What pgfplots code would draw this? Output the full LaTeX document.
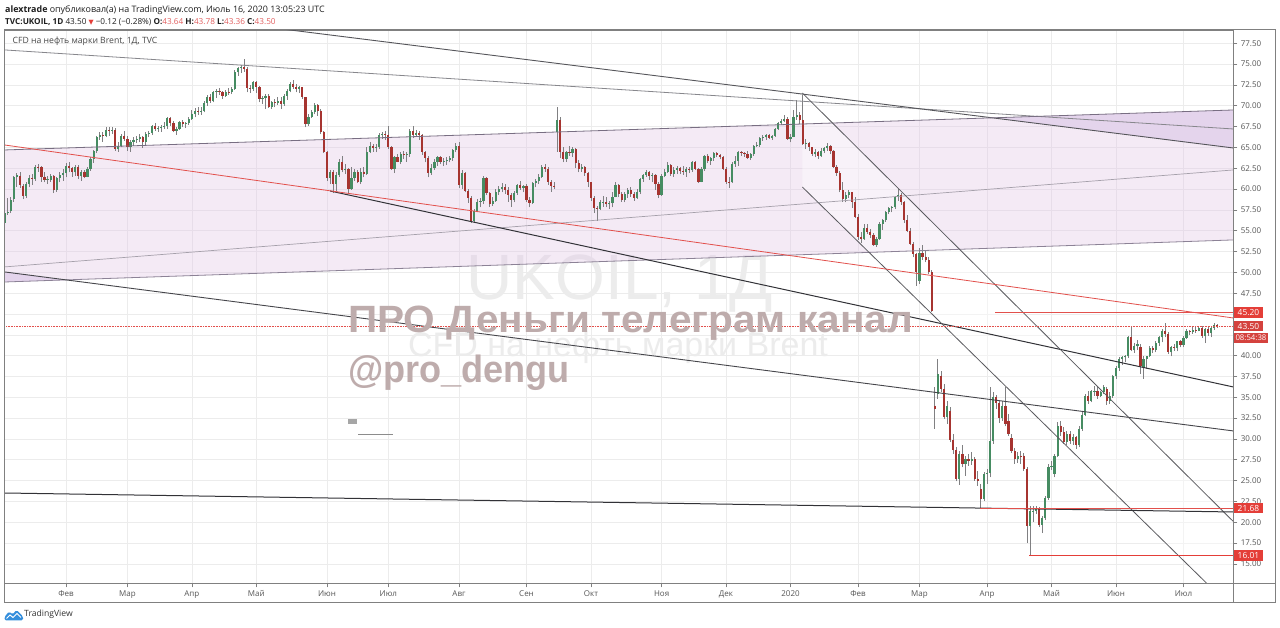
\documentclass[border=0pt]{standalone}
\usepackage{fontspec}
\setmainfont{Open Sans}
\newfontfamily\arialf{Liberation Sans}
\newfontfamily\dejavu{DejaVu Sans}
\usepackage{pgfplots}
\pgfplotsset{compat=1.18}
\usepackage{pgfplotstable}

\definecolor{upc}{RGB}{70,140,98}
\definecolor{downc}{RGB}{166,52,48}
\definecolor{wickc}{RGB}{128,128,130}
\definecolor{pinkc}{RGB}{224,195,229}
\definecolor{wedgec}{RGB}{228,212,236}
\definecolor{gridc}{RGB}{236,236,236}
\definecolor{framec}{RGB}{128,128,128}
\definecolor{labc}{RGB}{85,85,85}
\definecolor{tagred}{RGB}{228,62,56}
\definecolor{linered}{RGB}{226,80,76}
\definecolor{wmc}{RGB}{190,172,172}
\definecolor{ghostc}{RGB}{236,236,236}
\definecolor{tvblue}{RGB}{52,142,220}
\definecolor{valred}{RGB}{226,96,96}
\definecolor{txtc}{RGB}{30,30,30}

\newcommand\tickf{\fontsize{8}{9.6}\selectfont}

\pgfplotstableread{
o h l c
55.9 57.6 55.4 57.1
57.1 58.9 56.9 57.3
57.4 59.0 57.1 58.7
58.8 61.6 58.5 61.4
61.4 61.9 60.3 61.7
61.6 62.0 60.1 60.5
60.4 60.6 58.8 59.2
59.2 60.8 58.9 60.6
60.6 61.7 60.2 61.3
61.3 61.8 60.5 61.2
61.2 62.9 61.0 62.7
62.7 63.0 62.1 62.6
62.6 62.8 60.9 61.5
61.5 62.0 60.8 61.1
61.1 61.6 60.6 61.2
61.1 61.8 60.9 61.6
61.6 61.7 59.5 59.9
59.9 61.5 59.7 61.3
61.3 62.0 60.8 61.7
61.7 62.4 61.0 61.9
61.9 63.1 61.4 62.8
62.8 63.2 62.0 62.5
62.5 62.7 61.5 62.0
62.0 62.9 61.6 62.7
62.7 62.9 61.2 61.6
61.6 62.3 61.0 62.1
62.1 62.3 61.3 61.5
61.5 62.6 61.4 62.4
62.4 63.8 62.2 63.6
63.6 64.7 63.1 64.6
64.6 66.4 64.3 66.2
66.2 66.8 65.9 66.5
66.5 66.8 65.7 66.4
66.4 67.4 66.2 67.1
67.1 67.5 66.4 67.0
67.0 67.4 66.6 67.1
67.1 67.3 64.6 64.8
64.8 65.6 64.5 65.2
65.2 66.6 65.0 66.4
66.4 67.0 65.8 66.0
66.0 66.4 64.6 65.0
65.0 65.9 64.5 65.7
65.7 66.2 65.2 65.9
65.9 66.4 65.5 66.0
66.0 66.6 65.6 66.3
66.3 66.4 64.9 65.7
65.7 66.8 65.3 66.6
66.6 67.0 66.2 66.7
66.7 67.7 66.5 67.6
67.6 67.9 67.0 67.2
67.2 67.6 66.9 67.3
67.3 67.7 66.9 67.5
67.5 68.0 67.2 67.6
67.6 68.7 67.2 68.5
68.5 68.7 67.6 67.9
67.9 68.2 66.8 67.0
67.0 67.5 66.5 67.2
67.2 68.2 67.1 68.0
68.0 68.3 67.4 67.8
67.8 68.0 67.3 67.9
67.9 68.6 67.7 68.4
68.4 69.5 68.3 69.0
69.0 69.7 68.6 69.4
69.4 69.9 68.9 69.3
69.3 69.8 68.9 69.4
69.4 70.6 69.2 70.3
70.3 71.3 70.0 71.1
71.1 71.4 70.3 70.6
70.6 71.8 70.4 71.7
71.7 72.0 70.9 71.8
71.8 72.1 71.3 71.6
71.6 71.8 70.8 71.2
71.2 71.9 71.1 71.7
71.7 72.1 71.3 71.6
71.6 72.2 71.4 72.0
72.0 74.3 71.9 74.0
74.0 74.7 73.6 74.5
74.5 74.9 73.9 74.6
74.6 75.6 74.1 74.4
74.4 74.6 71.6 72.1
72.1 72.5 71.5 72.0
72.0 73.0 71.8 72.8
72.8 73.0 71.5 72.2
72.2 72.4 70.4 70.8
70.8 71.2 70.2 70.9
70.9 71.4 69.6 71.2
71.2 71.4 69.7 69.9
69.9 70.6 69.6 70.4
70.4 70.8 69.8 70.3
70.3 71.0 70.1 70.6
70.6 71.0 69.6 70.2
70.2 71.4 70.0 71.2
71.2 72.0 70.7 71.8
71.8 72.8 71.6 72.6
72.6 73.1 72.0 72.2
72.2 72.6 71.6 72.0
72.0 72.4 71.5 72.2
72.2 72.3 70.8 71.0
71.0 71.1 67.4 67.8
67.8 69.0 67.6 68.7
68.7 69.5 68.5 69.3
69.3 70.3 69.0 70.1
70.1 70.2 68.8 69.4
69.4 69.6 66.6 66.9
66.9 67.0 64.3 64.5
64.5 64.6 61.0 61.3
61.3 62.3 60.6 62.0
62.0 62.3 59.5 60.6
60.6 62.0 59.8 61.7
61.7 63.6 61.5 63.3
63.3 64.0 62.0 62.3
62.3 63.0 61.8 62.4
62.4 62.5 59.5 60.0
60.0 62.6 59.9 61.3
61.3 62.4 61.0 62.0
62.0 62.3 60.7 60.9
60.9 62.5 60.6 62.1
62.1 62.6 61.4 61.8
61.8 65.0 61.7 64.5
64.5 65.7 64.3 65.2
65.2 65.4 64.5 64.9
64.9 65.4 64.4 65.1
65.1 66.7 64.8 66.5
66.5 66.9 66.0 66.6
66.6 67.0 65.9 66.5
66.5 67.6 64.8 65.0
65.0 65.2 62.3 62.4
62.4 64.0 61.9 63.8
63.8 64.2 63.2 63.3
63.3 64.5 63.0 64.2
64.2 64.6 63.6 64.1
64.1 64.5 63.3 64.2
64.2 67.2 63.9 67.0
67.0 67.6 66.1 66.5
66.5 67.1 66.3 66.7
66.7 67.0 65.9 66.5
66.5 66.6 64.1 64.4
64.4 64.6 63.2 63.7
63.7 64.0 61.4 61.9
61.9 63.0 61.7 62.5
62.5 63.6 62.3 63.3
63.3 64.0 62.8 63.8
63.8 64.0 63.0 63.2
63.2 63.7 62.8 63.4
63.4 63.8 62.9 63.5
63.5 64.0 63.2 63.7
63.7 64.8 63.4 64.7
64.7 65.5 64.4 65.2
65.2 65.6 60.1 60.5
60.5 62.3 60.0 61.9
61.9 62.0 59.6 59.8
59.8 60.0 58.3 58.9
58.9 59.2 55.9 56.2
56.2 57.6 56.1 57.4
57.4 58.8 57.2 58.5
58.5 58.9 57.8 58.6
58.6 61.6 58.2 61.3
61.3 61.4 59.3 59.5
59.5 59.6 57.9 58.2
58.2 59.0 58.0 58.6
58.6 60.0 58.5 59.7
59.7 60.4 59.3 60.0
60.0 60.7 59.6 60.3
60.3 60.6 59.4 59.9
59.9 60.3 58.5 59.3
59.3 59.5 57.9 58.7
58.7 59.8 58.4 59.5
59.5 60.6 59.3 60.5
60.5 61.0 59.9 60.1
60.1 60.5 59.6 60.4
60.4 60.6 58.5 58.7
58.7 59.0 57.8 58.3
58.3 60.9 58.2 60.7
60.7 61.2 60.2 61.0
61.0 61.8 60.6 61.5
61.5 62.9 61.3 62.6
62.6 63.0 62.1 62.4
62.4 62.6 60.5 60.8
60.8 61.1 59.7 60.4
60.4 60.9 60.0 60.2
66.8 69.8 64.5 68.3
68.3 68.6 63.7 64.5
64.5 65.0 63.2 63.6
63.6 64.6 63.3 64.4
64.4 65.2 64.0 64.3
64.3 65.1 63.9 64.8
64.8 64.9 62.5 63.1
63.1 63.5 62.0 62.4
62.4 63.0 62.1 62.7
62.7 62.8 61.6 61.9
61.9 62.0 60.2 60.8
60.8 60.9 58.6 58.9
58.9 59.2 57.1 57.7
57.7 58.0 56.2 57.6
57.6 58.7 57.5 58.4
58.4 59.2 57.9 58.5
58.5 59.0 57.8 58.2
58.2 58.6 57.6 58.3
58.3 59.7 57.8 59.1
59.1 60.8 59.0 60.5
60.5 60.6 59.0 59.4
59.4 59.7 58.5 58.7
58.7 59.7 58.4 59.4
59.4 60.1 58.9 59.9
59.9 60.2 59.1 59.4
59.4 59.6 58.6 58.9
58.9 60.0 58.8 59.7
59.7 61.3 59.4 61.2
61.2 61.8 60.9 61.7
61.7 62.3 61.5 62.0
62.0 62.2 61.1 61.6
61.6 61.9 60.8 61.7
61.7 61.8 59.9 60.6
60.6 60.9 58.9 59.3
59.3 61.8 59.2 61.6
61.6 62.4 61.4 62.1
62.1 63.2 61.9 62.9
62.9 63.0 61.6 61.8
61.8 62.6 61.5 62.3
62.3 62.8 61.8 62.5
62.5 62.6 61.8 62.2
62.2 62.8 61.7 62.1
62.1 62.6 61.5 62.4
62.4 62.7 61.9 62.3
62.3 63.4 62.1 63.3
63.3 63.4 62.3 62.4
62.4 62.5 60.7 60.9
60.9 62.6 60.8 62.4
62.4 64.1 62.2 64.0
64.0 64.2 63.1 63.4
63.4 63.8 62.9 63.7
63.7 64.4 63.4 64.3
64.3 64.5 63.8 64.1
64.1 64.2 63.6 63.9
63.9 64.0 62.3 62.4
62.4 62.6 60.6 60.9
60.9 61.4 60.1 60.8
60.8 63.2 60.7 63.0
63.0 64.0 62.7 63.4
63.4 64.6 62.8 64.4
64.4 64.6 64.0 64.3
64.3 64.5 63.9 64.2
64.2 64.6 63.6 63.7
63.7 64.3 63.5 64.2
64.2 65.3 64.0 65.2
65.2 65.6 65.0 65.3
65.3 66.2 65.1 66.1
66.1 66.5 65.8 66.2
66.2 66.6 65.9 66.5
66.5 66.6 66.0 66.1
66.1 66.5 65.9 66.4
66.4 67.3 66.3 67.2
67.2 68.0 67.1 67.9
67.9 68.4 67.7 68.2
68.2 68.9 68.0 68.4
68.4 68.6 65.9 66.0
66.0 66.6 65.6 66.3
66.3 69.5 66.2 68.6
68.6 70.7 68.3 68.9
68.9 69.2 67.8 68.3
68.3 71.3 65.3 65.4
65.4 66.0 64.8 65.5
65.5 65.7 64.6 65.0
65.0 65.1 64.0 64.2
64.2 64.8 63.8 64.5
64.5 64.6 63.6 64.0
64.0 64.9 63.9 64.6
64.6 65.1 64.3 64.9
64.9 65.5 64.6 65.2
65.2 65.3 64.2 64.6
64.6 64.7 62.5 62.7
62.7 62.9 61.6 61.9
61.9 62.2 59.6 59.9
59.9 60.8 58.5 58.8
58.8 59.7 58.4 59.3
59.3 59.9 58.9 59.6
59.6 59.7 57.7 58.4
58.4 59.0 56.5 56.7
56.7 57.0 53.9 54.3
54.3 54.8 53.5 54.0
54.0 55.8 53.9 55.3
55.3 55.8 54.6 54.9
54.9 55.2 54.1 54.5
54.5 54.7 53.2 53.3
53.3 54.3 53.1 54.0
54.0 56.0 53.9 55.8
55.8 56.4 55.1 56.3
56.3 57.4 56.1 57.3
57.3 57.8 57.0 57.7
57.7 58.0 57.2 57.8
57.8 59.2 57.6 59.1
59.1 60.0 58.6 59.3
59.3 59.5 58.1 58.5
58.5 58.6 55.9 56.3
56.3 56.9 54.8 55.0
55.0 55.3 53.3 53.4
53.4 53.6 51.8 52.2
52.2 52.3 48.4 50.0
49.0 52.9 48.6 52.3
52.3 53.3 51.5 51.9
51.9 52.6 51.2 51.5
51.5 51.8 49.8 50.0
50.0 50.3 45.2 45.4
34.0 36.2 31.2 33.6
35.4 39.6 34.8 37.8
37.6 38.2 35.6 36.0
36.0 36.6 32.4 32.6
32.6 34.6 31.8 34.0
33.4 33.8 29.6 29.9
29.9 30.6 28.2 28.7
28.7 29.0 24.9 25.2
25.2 28.6 24.5 28.2
28.2 29.3 26.6 27.0
27.0 28.0 25.6 27.6
27.6 28.2 26.8 27.4
27.4 28.4 26.9 27.6
27.6 27.8 25.0 25.2
25.2 26.2 24.4 24.9
24.0 24.6 21.7 22.8
22.8 26.0 22.6 25.8
25.8 26.4 24.6 25.9
25.9 36.2 25.4 29.8
29.8 35.6 29.4 35.0
35.0 35.3 33.6 34.3
34.3 34.6 31.9 32.5
32.5 34.6 32.2 34.0
34.0 36.2 31.5 31.8
32.2 33.0 30.4 30.6
30.1 30.6 28.3 28.6
28.6 28.9 27.0 27.6
27.6 28.4 27.1 28.0
28.0 28.5 27.0 27.9
28.0 28.3 26.2 26.4
26.4 26.6 17.5 19.6
19.6 21.9 16.0 21.3
21.3 22.0 20.0 21.4
21.4 22.0 21.0 21.6
21.6 21.8 19.4 19.7
19.7 20.8 18.7 20.5
20.5 23.1 20.3 22.9
22.9 27.0 22.7 26.6
26.6 27.4 26.3 26.8
25.8 28.2 25.4 28.0
28.0 32.0 27.8 31.6
31.6 32.2 30.4 30.8
30.8 31.4 29.4 29.6
29.6 31.0 29.3 30.6
30.6 30.9 29.4 29.8
29.8 30.6 29.3 30.2
30.2 30.4 28.8 29.3
29.3 31.5 29.0 31.2
31.2 33.2 31.0 32.9
32.9 35.4 32.7 35.1
35.1 35.7 34.2 34.6
34.6 35.9 34.4 35.7
35.7 36.3 35.2 35.8
35.8 36.3 34.8 35.1
35.1 35.8 35.0 35.6
35.6 36.5 35.4 36.2
36.0 36.2 34.1 34.6
34.6 35.6 34.2 35.2
35.2 37.7 34.9 37.5
37.5 38.8 37.2 38.5
38.5 39.8 38.2 39.6
39.6 40.0 38.9 39.8
39.8 40.1 39.2 39.9
39.9 42.4 39.7 42.2
42.2 43.4 40.5 40.7
40.7 41.5 40.3 41.1
41.1 41.9 40.7 41.4
41.0 41.4 37.8 38.8
38.6 39.9 37.2 39.6
39.6 40.0 38.4 39.9
39.9 41.2 39.8 40.9
40.9 41.2 40.3 40.7
40.7 41.7 40.4 41.5
41.5 42.4 41.2 42.2
42.2 43.2 41.6 43.0
43.0 43.9 42.2 42.6
42.6 42.8 40.2 40.4
40.4 41.2 39.9 41.0
41.0 41.4 40.6 40.9
40.9 41.8 40.5 41.7
41.7 41.9 41.0 41.3
41.3 42.4 41.0 42.1
42.1 43.2 42.0 42.9
42.9 43.1 42.5 42.8
42.8 43.5 42.6 43.1
43.1 43.4 42.7 43.0
43.0 43.6 42.9 43.3
43.3 43.5 42.1 42.3
42.3 43.3 41.5 43.2
43.2 43.5 42.4 42.7
42.7 43.5 42.2 43.3
43.3 43.9 43.1 43.64
43.64 43.78 43.36 43.50
}\ohlc

\begin{document}
\begin{tikzpicture}
\useasboundingbox (0,0) rectangle (1280pt,628pt);
\fill[white] (0,0) rectangle (1280pt,628pt);
% ghost symbol watermark (behind chart)
\node[anchor=base, inner sep=0, text=ghostc, font=\arialf\fontsize{64}{64}\selectfont] at (620pt,328pt) {UKOIL, 1Д};
\node[anchor=base, inner sep=0, text=ghostc, font=\arialf\fontsize{34}{34}\selectfont] at (618pt,271pt) {CFD на нефть марки Brent};

\begin{axis}[
  at={(4.5pt,44.7pt)}, anchor=south west,
  x=1pt, y=8.33pt,
  xmin=4.5, xmax=1233.3, ymin=12.67, ymax=79.10,
  axis line style={draw=framec, line width=0.8pt},
  xtick={66,127.4,191.9,256.3,327,388.4,459,526.5,591,661.6,726,790.5,858,919.5,987,1051.5,1116,1183.5},
  xticklabels={Фев,Мар,Апр,Май,Июн,Июл,Авг,Сен,Окт,Ноя,Дек,2020,Фев,Мар,Апр,Май,Июн,Июл},
  ytick={15,17.5,20,22.5,25,27.5,30,32.5,35,37.5,40,42.5,45,47.5,50,52.5,55,57.5,60,62.5,65,67.5,70,72.5,75,77.5},
  yticklabels={15.00,17.50,20.00,22.50,25.00,27.50,30.00,32.50,35.00,37.50,40.00,,,47.50,50.00,52.50,55.00,57.50,60.00,62.50,65.00,67.50,70.00,72.50,75.00,77.50},
  xtick pos=left, ytick pos=right, yticklabel pos=right,
  tick align=outside, major tick length=4pt,
  tick style={draw=framec, line width=0.6pt},
  grid=major, major grid style={draw=gridc, line width=0.6pt},
  ticklabel style={font=\tickf, text=labc},
  colormap={updown}{color=(downc) color=(upc)},
  point meta min=0, point meta max=1,
]
% pink channel
\addplot[draw=none, fill=pinkc, fill opacity=0.35] coordinates {(4.5,64.69) (1233.3,69.49) (1233.3,53.89) (4.5,48.84)};
\addplot[draw=none, fill=wedgec] coordinates {(992,68.56) (1233.3,69.49) (1233.3,64.93)};
\addplot[draw=none, fill=wedgec] coordinates {(4.5,50.05) (66,49.06) (4.5,48.84)};
% lighter falling channel
\addplot[draw=none, fill=white, fill opacity=0.4] coordinates {(802.3,71.53) (1233.3,20.09) (1233.3,9.53) (802.3,60.25)};

% candles: wicks
\addplot[draw=wickc, line width=0.8pt, quiver={u=0, v={\thisrow{h}-\thisrow{l}}}]
  table[x expr={4.6+3.07*\coordindex}, y=l] {\ohlc};
% candles: bodies
\addplot[line width=2.2pt, point meta=explicit,
  quiver={u=0, v={\thisrow{c}-\thisrow{o}}, every arrow/.append style={draw=mapped color}}]
  table[x expr={4.6+3.07*\coordindex}, y=o, meta expr={\thisrow{c}>=\thisrow{o}}] {\ohlc};

% trend lines
\addplot[draw={rgb,255:red,135;green,135;blue,140}, line width=0.8pt] coordinates {(4.5,76.70) (1233.3,67.21)};
\addplot[draw={rgb,255:red,85;green,85;blue,90}, line width=0.9pt] coordinates {(285,79.17) (1233.3,64.93)};
\addplot[draw={rgb,255:red,120;green,110;blue,130}, line width=0.8pt] coordinates {(4.5,64.69) (1233.3,69.49)};
\addplot[draw={rgb,255:red,140;green,130;blue,150}, line width=0.8pt] coordinates {(4.5,48.84) (1233.3,53.89)};
\addplot[draw={rgb,255:red,165;green,160;blue,170}, line width=0.7pt] coordinates {(4.5,50.65) (1233.3,62.29)};
\addplot[draw={rgb,255:red,70;green,70;blue,75}, line width=0.9pt] coordinates {(4.5,50.05) (1233.3,30.96)};
\addplot[draw={rgb,255:red,50;green,50;blue,55}, line width=1pt] coordinates {(330,59.77) (1233.3,36.24)};
\addplot[draw={rgb,255:red,90;green,90;blue,95}, line width=0.8pt] coordinates {(802.3,71.53) (1233.3,20.09)};
\addplot[draw={rgb,255:red,90;green,90;blue,95}, line width=0.8pt] coordinates {(802.3,60.25) (1206.7,12.67)};
\addplot[draw={rgb,255:red,50;green,50;blue,55}, line width=1pt] coordinates {(4.5,23.51) (1233.3,21.23)};
\addplot[draw=linered, line width=0.8pt] coordinates {(4.5,65.29) (1233.3,44.52)};
\addplot[draw=linered, line width=0.9pt] coordinates {(995,45.2) (1233.3,45.2)};
\addplot[draw=linered, line width=0.6pt, densely dotted] coordinates {(4.5,43.5) (1233.3,43.5)};
\addplot[draw=linered, line width=0.9pt] coordinates {(980,21.68) (1233.3,21.68)};
\addplot[draw=tagred, line width=1pt] coordinates {(1029,16.01) (1233.3,16.01)};
\end{axis}

% frames
\draw[framec, line width=0.8pt] (4.5pt,26pt) rectangle (1275pt,598.7pt);
\draw[framec, line width=0.8pt] (1233.3pt,26pt) -- (1233.3pt,598.7pt);
\draw[framec, line width=0.8pt] (4.5pt,44.7pt) -- (1275pt,44.7pt);

% price tags
\begin{scope}[every node/.style={fill=tagred, text=white, anchor=west, inner xsep=4.2pt, inner ysep=0pt, minimum height=10.5pt, font=\fontsize{8.4}{8.6}\selectfont}]
\node at (1233.3pt,315.7pt) {45.20};
\node[fill={rgb,255:red,212;green,66;blue,62}] at (1233.3pt,301.8pt) {43.50};
\node[fill={rgb,255:red,212;green,66;blue,62}, inner xsep=2pt, font=\fontsize{7.8}{8}\selectfont] at (1233.3pt,290.2pt) {08:54:38};
\node at (1233.3pt,119.8pt) {21.68};
\node at (1233.3pt,72.5pt) {16.01};
\end{scope}

% overlay watermark
\node[anchor=base west, inner sep=0, xscale=1.068, text=wmc, font=\arialf\bfseries\fontsize{38}{38}\selectfont] at (348pt,295pt) {ПРО Деньги телеграм канал};
\node[anchor=base west, inner sep=0, xscale=0.95, text=wmc, font=\arialf\bfseries\fontsize{38}{38}\selectfont] at (348pt,245pt) {@pro\_dengu};
\fill[black!35] (348pt,204pt) rectangle (357pt,209pt);
\draw[black!45, line width=0.7pt] (358pt,194pt) -- (393pt,194pt);

% header
\node[anchor=base west, inner sep=0, text=txtc, font=\fontsize{8.9}{10}\selectfont] at (5pt,615pt) {\textbf{alextrade} опубликовал(а) на TradingView.com, Июль 16, 2020 13:05:23 UTC};
\node[anchor=base west, inner sep=0, text=txtc, font=\fontsize{8.2}{10}\selectfont] at (5pt,603.5pt) {\textbf{TVC:UKOIL, 1D} 43.50 {\color{tagred}\dejavu\fontsize{6.6}{7}\selectfont ▼} −0.12 (−0.28\%) \textbf{O:}{\color{valred}43.64} \textbf{H:}{\color{valred}43.78} \textbf{L:}{\color{valred}43.36} \textbf{C:}{\color{valred}43.50}};
\node[anchor=base west, inner sep=0, text={rgb,255:red,70;green,70;blue,70}, font=\fontsize{8.65}{9}\selectfont] at (12.5pt,584.5pt) {CFD на нефть марки Brent, 1Д, TVC};

% TradingView logo
\fill[tvblue, rounded corners=1.5pt] (4.5pt,7.5pt) -- (4.5pt,11pt) -- (9pt,16.5pt) -- (12.5pt,13.5pt) -- (16.5pt,18pt) -- (23pt,11.5pt) -- (23pt,7.5pt) -- cycle;
\draw[white, line width=1pt] (6.5pt,9.5pt) -- (10pt,13pt) -- (13pt,10.5pt) -- (17pt,14.5pt) -- (21pt,10.5pt);
\node[anchor=west, inner sep=0, text={rgb,255:red,50;green,50;blue,50}, font=\fontsize{8.6}{9}\selectfont] at (24pt,14pt) {TradingView};
\end{tikzpicture}
\end{document}
